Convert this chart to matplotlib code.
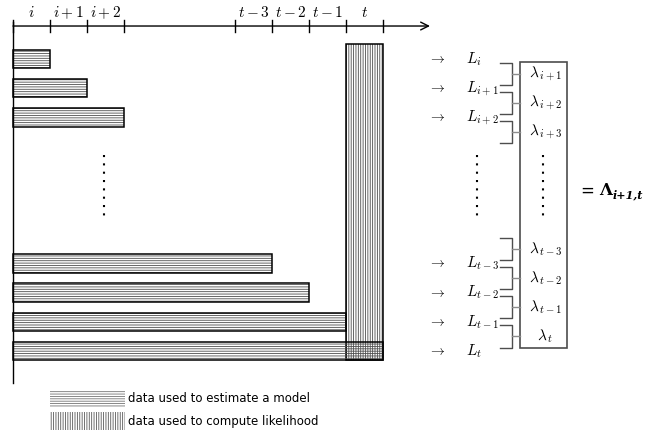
import matplotlib
matplotlib.use('Agg')
import matplotlib.pyplot as plt
from matplotlib.patches import Rectangle

plt.rcParams['mathtext.fontset'] = 'cm'
plt.rcParams['hatch.linewidth'] = 0.6

# eixo do tempo
tick_pos = [0, 1, 2, 3, 6, 7, 8, 9, 10]
period_pos = [0.5, 1.5, 2.5, 6.5, 7.5, 8.5, 9.5]
period_labels = ['$i$', '$i+1$', '$i+2$', '$t-3$', '$t-2$', '$t-1$', '$t$']

# linhas (janelas de estimação)
rows = [0, 1, 2, 7, 8, 9, 10]
est_end = [1, 2, 3, 7, 8, 9, 10]
L_labels = ['$L_i$', '$L_{i+1}$', '$L_{i+2}$', '$L_{t-3}$', '$L_{t-2}$', '$L_{t-1}$', '$L_t$']

# dados de verossimilhança (coluna t)
lik_start = 9
lik_end = 10
lik_top = -0.5
lik_bottom = 10.31

# lambdas: cada um liga duas linhas consecutivas
lam_spans = [(0, 1), (1, 2), (2, 3), (6, 7), (7, 8), (8, 9), (9, 10)]
lam_labels = [r'$\lambda_{\,i+1}$', r'$\lambda_{\,i+2}$', r'$\lambda_{\,i+3}$',
              r'$\lambda_{\,t-3}$', r'$\lambda_{\,t-2}$', r'$\lambda_{\,t-1}$', r'$\lambda_{\,t}$']

bar_h = 0.63
axis_y = -1.13

fig = plt.figure(figsize=(6.49, 4.33), dpi=100)
ax = fig.add_axes([0, 0, 1, 1])
ax.set_xlim(-13 / 37, 636 / 37)
ax.set_ylim(12.808, -2.021)
ax.axis('off')

# eixos
ax.annotate('', xy=(11.27, axis_y), xytext=(0, axis_y),
            arrowprops=dict(arrowstyle='->', lw=1, color='k', mutation_scale=14,
                            shrinkA=0, shrinkB=0))
ax.plot([0, 0], [axis_y - 0.15, 11.1], color='k', lw=1)
for p in tick_pos:
    ax.plot([p, p], [axis_y - 0.2, axis_y + 0.2], color='k', lw=1)
for p, lab in zip(period_pos, period_labels):
    ax.text(p, -1.58, lab, ha='center', va='center', fontsize=11)

# barra vertical (verossimilhança)
ax.add_patch(Rectangle((lik_start, lik_top), lik_end - lik_start, lik_bottom - lik_top,
                       facecolor='none', edgecolor='0.3', lw=0, hatch='|||||||'))
ax.add_patch(Rectangle((lik_start, lik_top), lik_end - lik_start, lik_bottom - lik_top,
                       fill=False, edgecolor='k', lw=1.1))

# barras horizontais (estimação)
ax.barh(rows, est_end, height=bar_h, left=0, color='none', edgecolor='0.3',
        lw=0, hatch='-------')
ax.barh(rows, est_end, height=bar_h, left=0, fill=False, edgecolor='k', lw=1.1)

# reticências
dot_style = dict(color='k', lw=1.5, ls=(0, (1, 3)))
ax.plot([2.46, 2.46], [3.3, 5.5], **dot_style)
ax.plot([12.54, 12.54], [3.3, 5.5], **dot_style)
ax.plot([14.32, 14.32], [3.3, 5.5], **dot_style)

# setas e L
for r, lab in zip(rows, L_labels):
    ax.text(11.46, r, r'$\rightarrow$', ha='center', va='center', fontsize=10)
    ax.text(12.25, r, lab, ha='left', va='center', fontsize=11)

# chaves e lambdas
box_x0, box_x1 = 13.70, 14.97
for (a, b), lab in zip(lam_spans, lam_labels):
    top, bot = a + 0.12, b - 0.12
    mid = (a + b) / 2
    ax.plot([13.16, 13.49, 13.49, 13.16], [top, top, bot, bot], color='0.3', lw=1)
    ax.plot([13.49, box_x0], [mid, mid], color='0.55', lw=1)
    ax.text((box_x0 + box_x1) / 2 + 0.05, mid, lab, ha='center', va='center', fontsize=11)
ax.add_patch(Rectangle((box_x0, 0.1), box_x1 - box_x0, 9.8, fill=False, edgecolor='0.3', lw=1.2))

ax.text(15.32, 4.5, '=', ha='left', va='center', fontsize=12)
ax.text(15.85, 4.5, 'Λ', ha='left', va='center', fontsize=12,
        family='DejaVu Serif', fontweight='bold')
ax.text(16.2, 4.66, 'i+1,t', ha='left', va='center', fontsize=8,
        family='DejaVu Serif', fontweight='bold', fontstyle='italic')

# legenda
ax.add_patch(Rectangle((1.0, 11.34), 2.03, 0.58, facecolor='none', edgecolor='0.45',
                       lw=0, hatch='-------'))
ax.add_patch(Rectangle((1.0, 12.09), 2.03, 0.61, facecolor='none', edgecolor='0.35',
                       lw=0, hatch='|||||||'))
ax.text(3.1, 11.63, 'data used to estimate a model', ha='left', va='center', fontsize=8.5)
ax.text(3.1, 12.4, 'data used to compute likelihood', ha='left', va='center', fontsize=8.5)

fig.savefig('out.png', dpi=100)
